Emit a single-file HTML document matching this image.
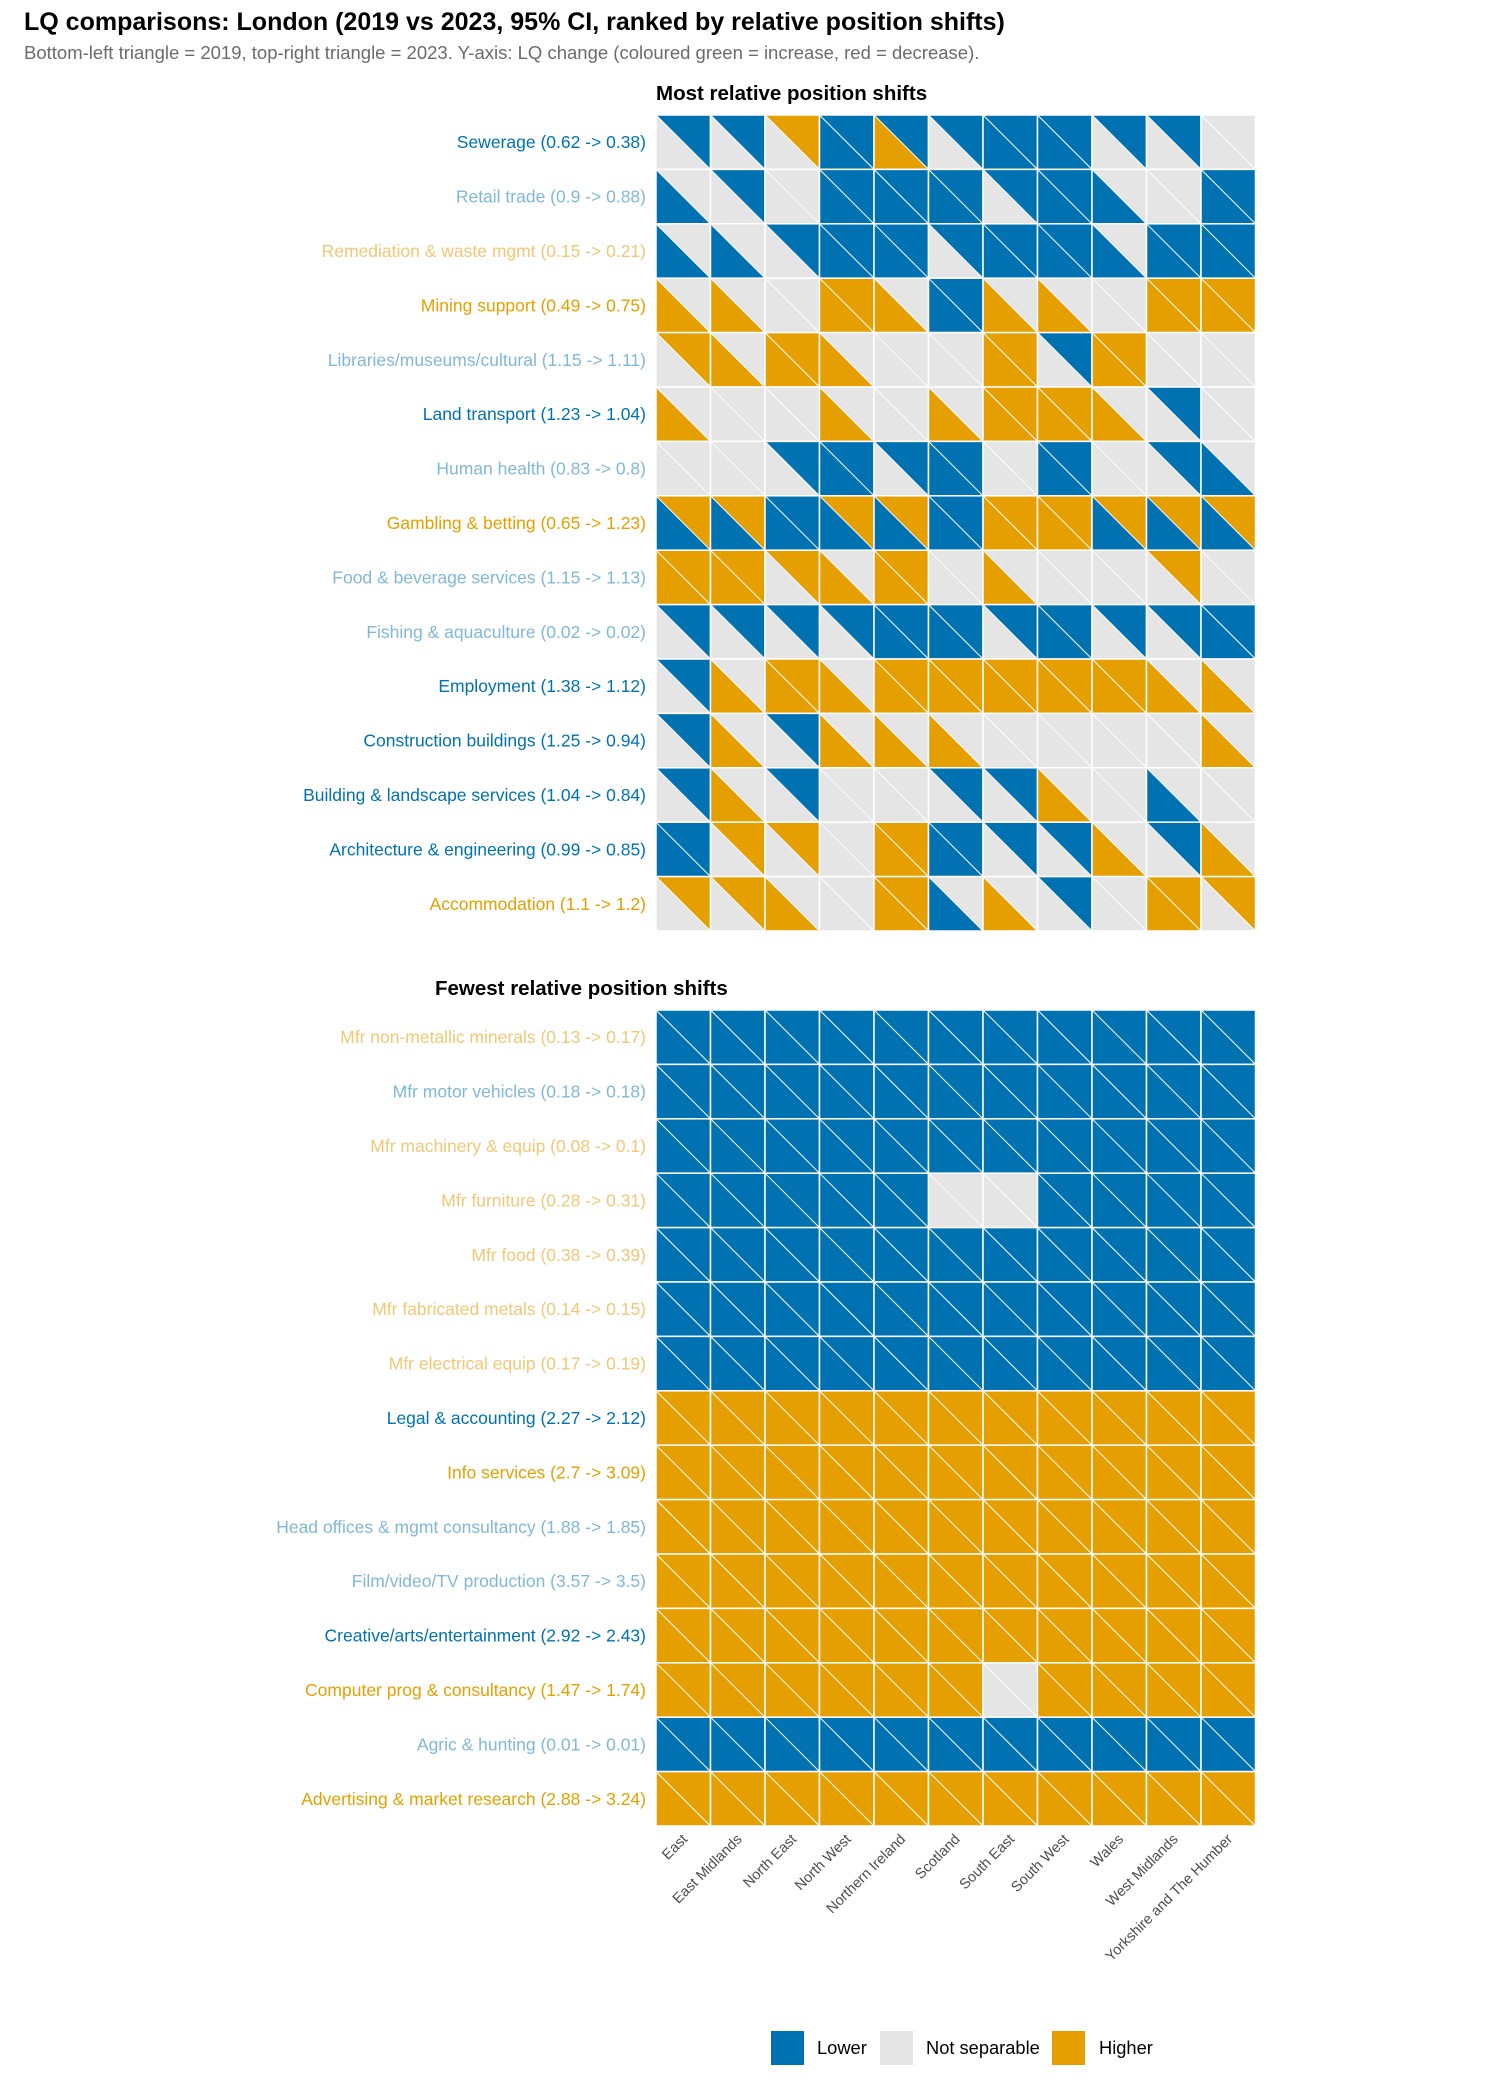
<!DOCTYPE html>
<html><head><meta charset="utf-8"><style>
html,body{margin:0;padding:0;background:#fff;}
svg{display:block;font-family:"Liberation Sans",Arial,sans-serif;}
</style></head><body>
<svg id="chart" width="1500" height="2100" viewBox="0 0 1500 2100" xmlns="http://www.w3.org/2000/svg">
<rect width="1500" height="2100" fill="#fff"/>
<text x="24" y="30" font-size="25" font-weight="bold" fill="#000">LQ comparisons: London (2019 vs 2023, 95% CI, ranked by relative position shifts)</text>
<text x="24" y="59" font-size="18.5" fill="#6b6b6b">Bottom-left triangle = 2019, top-right triangle = 2023. Y-axis: LQ change (coloured green = increase, red = decrease).</text>
<text x="656" y="100" font-size="20.5" font-weight="bold" fill="#000">Most relative position shifts</text>
<text x="435" y="995" font-size="20.5" font-weight="bold" fill="#000">Fewest relative position shifts</text>
<g id="top"></g>
<g id="bottom"></g>
<g id="xaxis"></g>
<g>
<rect x="771" y="2031" width="33" height="34" fill="#0072B2"/>
<text x="817" y="2054" font-size="18.3" fill="#000">Lower</text>
<rect x="880" y="2031" width="33" height="34" fill="#E5E5E5"/>
<text x="926" y="2054" font-size="18.3" fill="#000">Not separable</text>
<rect x="1052" y="2031" width="33" height="34" fill="#E69F00"/>
<text x="1099" y="2054" font-size="18.3" fill="#000">Higher</text>
</g>
</svg>
<script>
const regions = ["East","East Midlands","North East","North West","Northern Ireland","Scotland","South East","South West","Wales","West Midlands","Yorkshire and The Humber"];
const topLabels = ["Sewerage (0.62 -> 0.38)","Retail trade (0.9 -> 0.88)","Remediation & waste mgmt (0.15 -> 0.21)","Mining support (0.49 -> 0.75)","Libraries/museums/cultural (1.15 -> 1.11)","Land transport (1.23 -> 1.04)","Human health (0.83 -> 0.8)","Gambling & betting (0.65 -> 1.23)","Food & beverage services (1.15 -> 1.13)","Fishing & aquaculture (0.02 -> 0.02)","Employment (1.38 -> 1.12)","Construction buildings (1.25 -> 0.94)","Building & landscape services (1.04 -> 0.84)","Architecture & engineering (0.99 -> 0.85)","Accommodation (1.1 -> 1.2)"];
const topLabelClass = ["DB","LB","LO","O","LB","DB","LB","O","LB","LB","DB","DB","DB","DB","O"];
const top2019 = ["GGGBOGBBGGG","BGGBBBGBBGB","BBGBBGBBBBB","OOGOOBOOGOO","GOOOGGOGOGG","OGGOGOOOOGG","GGGBGBGBGGB","BBBBBBOOBBB","OOGOOGOGGGG","GGGGBBGBGGB","GOOOOOOOOOO","GOGOOOGGGGO","GOGGGGGOGBG","BGGGOBGGOGO","GGOGOBOGGOG"];
const top2023 = ["BBOBBBBBBBG","GBGBBBBBGGB","GGBBBBBBGBB","GGGOGBGGGOO","OGOGGGOBOGG","GGGGGGOOGBG","GGBBBBGBGBG","OOBOOBOOOOO","OOOGOGGGGOG","BBBBBBBBBBB","BGOGOOOOOGG","BGBGGGGGGGG","BGBGGBBGGGG","BOOGOBBBGBG","OOGGOGGBGOO"];
const botLabels = ["Mfr non-metallic minerals (0.13 -> 0.17)","Mfr motor vehicles (0.18 -> 0.18)","Mfr machinery & equip (0.08 -> 0.1)","Mfr furniture (0.28 -> 0.31)","Mfr food (0.38 -> 0.39)","Mfr fabricated metals (0.14 -> 0.15)","Mfr electrical equip (0.17 -> 0.19)","Legal & accounting (2.27 -> 2.12)","Info services (2.7 -> 3.09)","Head offices & mgmt consultancy (1.88 -> 1.85)","Film/video/TV production (3.57 -> 3.5)","Creative/arts/entertainment (2.92 -> 2.43)","Computer prog & consultancy (1.47 -> 1.74)","Agric & hunting (0.01 -> 0.01)","Advertising & market research (2.88 -> 3.24)"];
const botLabelClass = ["LO","LB","LO","LO","LO","LO","LO","DB","O","LB","LB","DB","O","LB","O"];
const bot2019 = ["BBBBBBBBBBB","BBBBBBBBBBB","BBBBBBBBBBB","BBBBBGGBBBB","BBBBBBBBBBB","BBBBBBBBBBB","BBBBBBBBBBB","OOOOOOOOOOO","OOOOOOOOOOO","OOOOOOOOOOO","OOOOOOOOOOO","OOOOOOOOOOO","OOOOOOGOOOO","BBBBBBBBBBB","OOOOOOOOOOO"];
const bot2023 = ["BBBBBBBBBBB","BBBBBBBBBBB","BBBBBBBBBBB","BBBBBGGBBBB","BBBBBBBBBBB","BBBBBBBBBBB","BBBBBBBBBBB","OOOOOOOOOOO","OOOOOOOOOOO","OOOOOOOOOOO","OOOOOOOOOOO","OOOOOOOOOOO","OOOOOOGOOOO","BBBBBBBBBBB","OOOOOOOOOOO"];

const FILL = {B:"#0072B2",G:"#E5E5E5",O:"#E69F00"};
const LCOL = {DB:"#0072B2",LB:"#80B8D9",O:"#E69F00",LO:"#F3C775"};
const NS = "http://www.w3.org/2000/svg";
const X0 = 656, CW = 54.5, RH = 54.4;
function xScale(i){ return X0 + i*CW; }
function mk(tag, attrs){ const e=document.createElementNS(NS,tag); for(const k in attrs) e.setAttribute(k, attrs[k]); return e; }

function drawPanel(g, y0, labels, lcls, c19, c23){
  const yScale = r => y0 + r*RH;
  labels.forEach((lab, r) => {
    const y = yScale(r);
    const t = mk("text",{x:646,y:y+RH/2+6,"text-anchor":"end","font-size":"17.5",fill:LCOL[lcls[r]]});
    t.textContent = lab;
    
    
    g.appendChild(t);
    regions.forEach((reg, c) => {
      const x = xScale(c);
      const x2 = xScale(c+1), y2 = yScale(r+1);
      const lo = mk("polygon",{points:`${x},${y} ${x},${y2} ${x2},${y2}`,fill:FILL[c19[r][c]]});
      
      
      g.appendChild(lo);
      const up = mk("polygon",{points:`${x},${y} ${x2},${y} ${x2},${y2}`,fill:FILL[c23[r][c]]});
      
      
      g.appendChild(up);
      const d = mk("line",{x1:x,y1:y,x2:x2,y2:y2,stroke:"#fff","stroke-width":"1"});
      
      
      g.appendChild(d);
      const b = mk("rect",{x:x,y:y,width:CW,height:RH,fill:"none",stroke:"#fff","stroke-width":"1.5"});
      
      
      g.appendChild(b);
    });
  });
}
drawPanel(document.getElementById('top'), 115, topLabels, topLabelClass, top2019, top2023);
drawPanel(document.getElementById('bottom'), 1010, botLabels, botLabelClass, bot2019, bot2023);

const xa = document.getElementById('xaxis');
regions.forEach((reg, c) => {
  const cx = xScale(c) + CW/2 + 5, cy = 1840;
  const t = mk("text",{x:cx,y:cy,"text-anchor":"end","font-size":"14.5",fill:"#4d4d4d",transform:`rotate(-45 ${cx} ${cy})`});
  t.textContent = reg;
  
  
  xa.appendChild(t);
});
</script>
</body></html>
